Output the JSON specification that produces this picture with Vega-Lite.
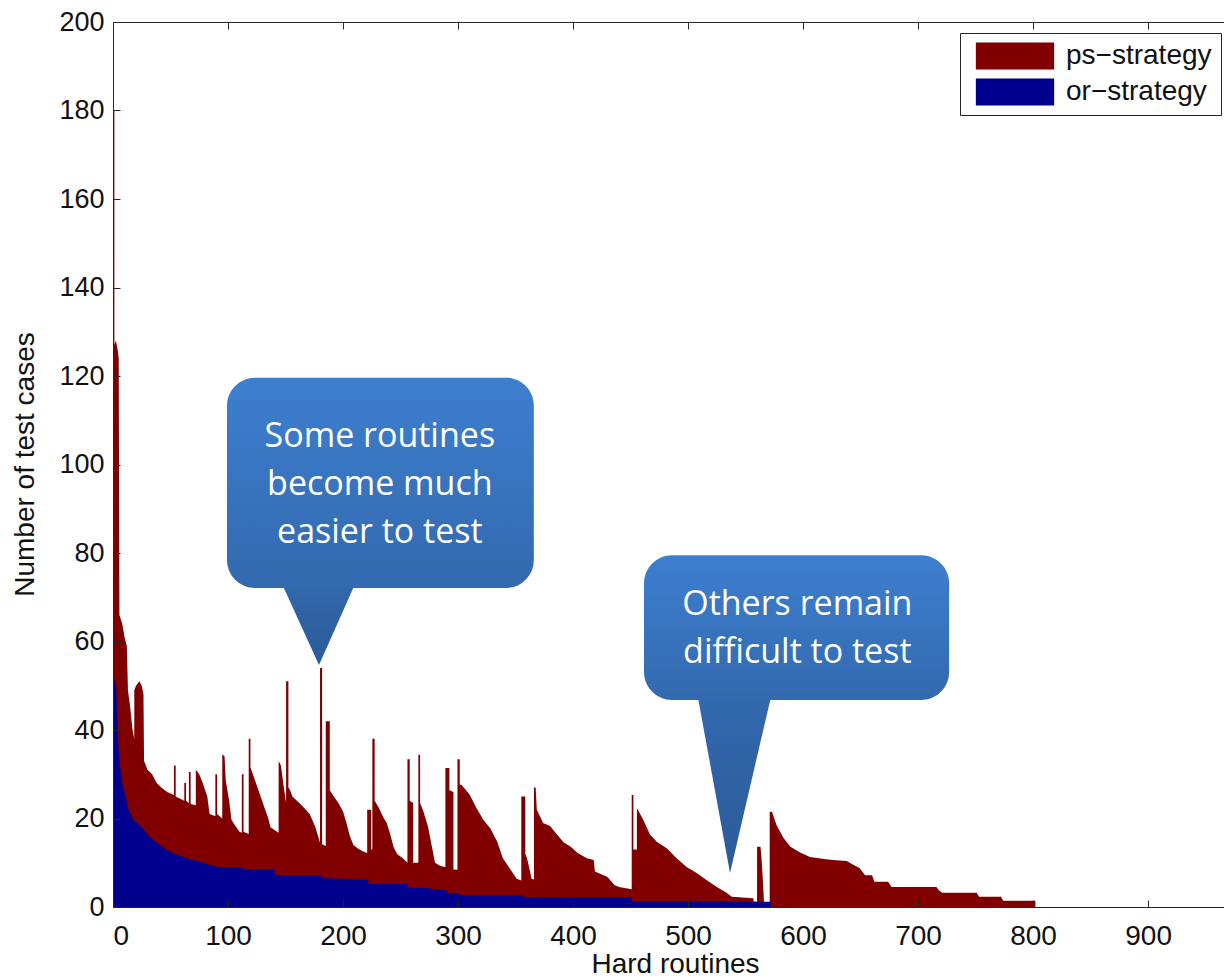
{
  "$schema": "https://vega.github.io/schema/vega-lite/v6.json",
  "width": 1111,
  "height": 885,
  "autosize": {"type": "none"},
  "padding": {"left": 113, "top": 22, "right": 0, "bottom": 70},
  "background": "#ffffff",
  "config": {"view": {"stroke": null}, "font": "Liberation Sans"},
  "datasets": {
    "ps": [
      {"x":0,"y":180,"s":"ps−strategy"},{"x":1.2,"y":180,"s":"ps−strategy"},{"x":1.21,"y":127,"s":"ps−strategy"},{"x":2.5,"y":128,"s":"ps−strategy"},{"x":4,"y":126,"s":"ps−strategy"},{"x":5,"y":124,"s":"ps−strategy"},{"x":5.3,"y":90,"s":"ps−strategy"},{"x":5.6,"y":66,"s":"ps−strategy"},{"x":8,"y":64,"s":"ps−strategy"},{"x":10,"y":61,"s":"ps−strategy"},{"x":12,"y":59,"s":"ps−strategy"},{"x":13,"y":49,"s":"ps−strategy"},{"x":15,"y":45,"s":"ps−strategy"},{"x":17,"y":40,"s":"ps−strategy"},{"x":18.5,"y":38,"s":"ps−strategy"},{"x":18.51,"y":49,"s":"ps−strategy"},{"x":20,"y":50,"s":"ps−strategy"},{"x":23,"y":51,"s":"ps−strategy"},{"x":25,"y":50,"s":"ps−strategy"},{"x":26.5,"y":48,"s":"ps−strategy"},{"x":27,"y":33,"s":"ps−strategy"},{"x":30,"y":31,"s":"ps−strategy"},{"x":34,"y":30,"s":"ps−strategy"},{"x":38,"y":28,"s":"ps−strategy"},{"x":42,"y":27,"s":"ps−strategy"},{"x":47,"y":26,"s":"ps−strategy"},{"x":53,"y":25.3,"s":"ps−strategy"},{"x":53.01,"y":32,"s":"ps−strategy"},{"x":54.5,"y":32,"s":"ps−strategy"},{"x":54.51,"y":25,"s":"ps−strategy"},{"x":58,"y":24.5,"s":"ps−strategy"},{"x":62,"y":24,"s":"ps−strategy"},{"x":62.01,"y":28,"s":"ps−strategy"},{"x":63.5,"y":28,"s":"ps−strategy"},{"x":63.51,"y":24,"s":"ps−strategy"},{"x":66,"y":23.5,"s":"ps−strategy"},{"x":66.01,"y":30.5,"s":"ps−strategy"},{"x":67.5,"y":30.5,"s":"ps−strategy"},{"x":67.51,"y":23.3,"s":"ps−strategy"},{"x":72,"y":23,"s":"ps−strategy"},{"x":72.01,"y":31,"s":"ps−strategy"},{"x":75,"y":30,"s":"ps−strategy"},{"x":78,"y":28,"s":"ps−strategy"},{"x":82,"y":25,"s":"ps−strategy"},{"x":84,"y":21,"s":"ps−strategy"},{"x":89,"y":20.5,"s":"ps−strategy"},{"x":89.01,"y":30,"s":"ps−strategy"},{"x":90.5,"y":30,"s":"ps−strategy"},{"x":90.51,"y":21,"s":"ps−strategy"},{"x":95,"y":20,"s":"ps−strategy"},{"x":95.01,"y":34.5,"s":"ps−strategy"},{"x":97,"y":34,"s":"ps−strategy"},{"x":98,"y":28.7,"s":"ps−strategy"},{"x":101,"y":24,"s":"ps−strategy"},{"x":103,"y":19.7,"s":"ps−strategy"},{"x":106,"y":18.5,"s":"ps−strategy"},{"x":110,"y":17,"s":"ps−strategy"},{"x":112,"y":16.8,"s":"ps−strategy"},{"x":112.01,"y":30,"s":"ps−strategy"},{"x":113.5,"y":30,"s":"ps−strategy"},{"x":113.51,"y":17,"s":"ps−strategy"},{"x":118,"y":16.5,"s":"ps−strategy"},{"x":118.01,"y":38,"s":"ps−strategy"},{"x":119.5,"y":38,"s":"ps−strategy"},{"x":119.51,"y":31.6,"s":"ps−strategy"},{"x":123,"y":29,"s":"ps−strategy"},{"x":127,"y":26,"s":"ps−strategy"},{"x":131,"y":23,"s":"ps−strategy"},{"x":135,"y":20,"s":"ps−strategy"},{"x":137,"y":18,"s":"ps−strategy"},{"x":141,"y":17.3,"s":"ps−strategy"},{"x":144,"y":16.8,"s":"ps−strategy"},{"x":144.01,"y":33,"s":"ps−strategy"},{"x":146,"y":32,"s":"ps−strategy"},{"x":148,"y":28,"s":"ps−strategy"},{"x":150.5,"y":23.5,"s":"ps−strategy"},{"x":150.51,"y":51,"s":"ps−strategy"},{"x":152.5,"y":51,"s":"ps−strategy"},{"x":152.51,"y":27,"s":"ps−strategy"},{"x":154,"y":26.4,"s":"ps−strategy"},{"x":156,"y":25,"s":"ps−strategy"},{"x":164,"y":23,"s":"ps−strategy"},{"x":171,"y":21,"s":"ps−strategy"},{"x":176,"y":18,"s":"ps−strategy"},{"x":180,"y":14.5,"s":"ps−strategy"},{"x":180.01,"y":54,"s":"ps−strategy"},{"x":181.8,"y":54,"s":"ps−strategy"},{"x":181.81,"y":14.2,"s":"ps−strategy"},{"x":185,"y":13.8,"s":"ps−strategy"},{"x":185.01,"y":42,"s":"ps−strategy"},{"x":188.5,"y":42,"s":"ps−strategy"},{"x":188.51,"y":26.4,"s":"ps−strategy"},{"x":192,"y":25,"s":"ps−strategy"},{"x":196,"y":23.5,"s":"ps−strategy"},{"x":200,"y":21.6,"s":"ps−strategy"},{"x":203,"y":19,"s":"ps−strategy"},{"x":206,"y":16,"s":"ps−strategy"},{"x":209,"y":14,"s":"ps−strategy"},{"x":213,"y":13.2,"s":"ps−strategy"},{"x":217,"y":12.6,"s":"ps−strategy"},{"x":221,"y":12.2,"s":"ps−strategy"},{"x":221.01,"y":22,"s":"ps−strategy"},{"x":224.5,"y":22,"s":"ps−strategy"},{"x":224.51,"y":13,"s":"ps−strategy"},{"x":225.5,"y":13,"s":"ps−strategy"},{"x":225.51,"y":38,"s":"ps−strategy"},{"x":227.5,"y":38,"s":"ps−strategy"},{"x":227.51,"y":24,"s":"ps−strategy"},{"x":231,"y":22.5,"s":"ps−strategy"},{"x":235,"y":20.3,"s":"ps−strategy"},{"x":238,"y":19,"s":"ps−strategy"},{"x":241,"y":16.5,"s":"ps−strategy"},{"x":244,"y":13.5,"s":"ps−strategy"},{"x":247,"y":12,"s":"ps−strategy"},{"x":252,"y":11,"s":"ps−strategy"},{"x":256,"y":10,"s":"ps−strategy"},{"x":256.01,"y":33.4,"s":"ps−strategy"},{"x":258,"y":33.4,"s":"ps−strategy"},{"x":258.01,"y":24,"s":"ps−strategy"},{"x":261,"y":23.5,"s":"ps−strategy"},{"x":261.01,"y":10,"s":"ps−strategy"},{"x":265.5,"y":10,"s":"ps−strategy"},{"x":265.51,"y":34.4,"s":"ps−strategy"},{"x":267,"y":34.4,"s":"ps−strategy"},{"x":267.01,"y":23.5,"s":"ps−strategy"},{"x":270,"y":21.5,"s":"ps−strategy"},{"x":274,"y":18,"s":"ps−strategy"},{"x":277,"y":14,"s":"ps−strategy"},{"x":280,"y":10,"s":"ps−strategy"},{"x":284,"y":9.4,"s":"ps−strategy"},{"x":289,"y":9,"s":"ps−strategy"},{"x":289.01,"y":31.4,"s":"ps−strategy"},{"x":292.5,"y":31.4,"s":"ps−strategy"},{"x":292.51,"y":26.4,"s":"ps−strategy"},{"x":296,"y":26,"s":"ps−strategy"},{"x":296.01,"y":8.5,"s":"ps−strategy"},{"x":299.5,"y":8.4,"s":"ps−strategy"},{"x":299.51,"y":33.4,"s":"ps−strategy"},{"x":301.5,"y":33.4,"s":"ps−strategy"},{"x":301.51,"y":27.6,"s":"ps−strategy"},{"x":303,"y":27.6,"s":"ps−strategy"},{"x":310,"y":25.4,"s":"ps−strategy"},{"x":316,"y":22.4,"s":"ps−strategy"},{"x":322,"y":19.7,"s":"ps−strategy"},{"x":328,"y":17.8,"s":"ps−strategy"},{"x":334,"y":14.8,"s":"ps−strategy"},{"x":339,"y":11,"s":"ps−strategy"},{"x":345,"y":8.7,"s":"ps−strategy"},{"x":351,"y":6.4,"s":"ps−strategy"},{"x":355,"y":6,"s":"ps−strategy"},{"x":355.01,"y":25,"s":"ps−strategy"},{"x":358.5,"y":25,"s":"ps−strategy"},{"x":358.51,"y":12,"s":"ps−strategy"},{"x":360,"y":11,"s":"ps−strategy"},{"x":364,"y":6.4,"s":"ps−strategy"},{"x":366,"y":6.2,"s":"ps−strategy"},{"x":366.01,"y":27,"s":"ps−strategy"},{"x":367.5,"y":27,"s":"ps−strategy"},{"x":368.5,"y":22,"s":"ps−strategy"},{"x":374,"y":19,"s":"ps−strategy"},{"x":380,"y":18.3,"s":"ps−strategy"},{"x":386,"y":16.4,"s":"ps−strategy"},{"x":392,"y":14.6,"s":"ps−strategy"},{"x":398,"y":13.6,"s":"ps−strategy"},{"x":404,"y":12.2,"s":"ps−strategy"},{"x":412,"y":11,"s":"ps−strategy"},{"x":418,"y":10.6,"s":"ps−strategy"},{"x":419,"y":8,"s":"ps−strategy"},{"x":430,"y":6.8,"s":"ps−strategy"},{"x":436,"y":5,"s":"ps−strategy"},{"x":440,"y":4.5,"s":"ps−strategy"},{"x":451,"y":4,"s":"ps−strategy"},{"x":451.01,"y":25.3,"s":"ps−strategy"},{"x":452.5,"y":25.3,"s":"ps−strategy"},{"x":452.51,"y":13,"s":"ps−strategy"},{"x":455.5,"y":13,"s":"ps−strategy"},{"x":455.51,"y":22.4,"s":"ps−strategy"},{"x":461,"y":19.7,"s":"ps−strategy"},{"x":467,"y":16.3,"s":"ps−strategy"},{"x":473,"y":14.7,"s":"ps−strategy"},{"x":481.5,"y":13.3,"s":"ps−strategy"},{"x":490,"y":11,"s":"ps−strategy"},{"x":499,"y":9,"s":"ps−strategy"},{"x":507.5,"y":7.7,"s":"ps−strategy"},{"x":516,"y":6.1,"s":"ps−strategy"},{"x":525,"y":4.5,"s":"ps−strategy"},{"x":533.5,"y":3.2,"s":"ps−strategy"},{"x":538,"y":2.3,"s":"ps−strategy"},{"x":556.8,"y":2,"s":"ps−strategy"},{"x":557,"y":1.2,"s":"ps−strategy"},{"x":560,"y":1.2,"s":"ps−strategy"},{"x":560.01,"y":13.6,"s":"ps−strategy"},{"x":563,"y":13.6,"s":"ps−strategy"},{"x":564,"y":10.6,"s":"ps−strategy"},{"x":565.5,"y":4,"s":"ps−strategy"},{"x":566,"y":1,"s":"ps−strategy"},{"x":571,"y":1,"s":"ps−strategy"},{"x":571.01,"y":21.5,"s":"ps−strategy"},{"x":573,"y":21.5,"s":"ps−strategy"},{"x":577,"y":18.5,"s":"ps−strategy"},{"x":583,"y":15.6,"s":"ps−strategy"},{"x":589,"y":13.6,"s":"ps−strategy"},{"x":597,"y":12.4,"s":"ps−strategy"},{"x":606,"y":11.3,"s":"ps−strategy"},{"x":620,"y":10.8,"s":"ps−strategy"},{"x":626,"y":10.6,"s":"ps−strategy"},{"x":638,"y":10.4,"s":"ps−strategy"},{"x":644,"y":9.5,"s":"ps−strategy"},{"x":649,"y":8.8,"s":"ps−strategy"},{"x":654,"y":7.2,"s":"ps−strategy"},{"x":660,"y":7.2,"s":"ps−strategy"},{"x":662,"y":5.7,"s":"ps−strategy"},{"x":674,"y":5.7,"s":"ps−strategy"},{"x":677,"y":4.5,"s":"ps−strategy"},{"x":716,"y":4.5,"s":"ps−strategy"},{"x":718,"y":3.8,"s":"ps−strategy"},{"x":721,"y":3.2,"s":"ps−strategy"},{"x":751,"y":3.2,"s":"ps−strategy"},{"x":753,"y":2.3,"s":"ps−strategy"},{"x":772,"y":2.3,"s":"ps−strategy"},{"x":774,"y":1.4,"s":"ps−strategy"},{"x":802,"y":1.4,"s":"ps−strategy"},{"x":802.01,"y":0,"s":"ps−strategy"}
    ],
    "or": [
      {"x":0,"y":51.5,"s":"or−strategy"},{"x":2,"y":51,"s":"or−strategy"},{"x":3,"y":49,"s":"or−strategy"},{"x":4,"y":40,"s":"or−strategy"},{"x":5,"y":35,"s":"or−strategy"},{"x":6,"y":32,"s":"or−strategy"},{"x":8,"y":28,"s":"or−strategy"},{"x":10,"y":26,"s":"or−strategy"},{"x":13,"y":22.5,"s":"or−strategy"},{"x":17,"y":20,"s":"or−strategy"},{"x":21,"y":19,"s":"or−strategy"},{"x":25,"y":18,"s":"or−strategy"},{"x":29,"y":16.8,"s":"or−strategy"},{"x":32,"y":15.8,"s":"or−strategy"},{"x":36,"y":15,"s":"or−strategy"},{"x":39,"y":14.4,"s":"or−strategy"},{"x":43,"y":13.6,"s":"or−strategy"},{"x":47,"y":12.9,"s":"or−strategy"},{"x":54,"y":12,"s":"or−strategy"},{"x":61,"y":11.3,"s":"or−strategy"},{"x":68,"y":10.7,"s":"or−strategy"},{"x":76,"y":10.2,"s":"or−strategy"},{"x":83,"y":9.6,"s":"or−strategy"},{"x":90,"y":9.1,"s":"or−strategy"},{"x":97,"y":9,"s":"or−strategy"},{"x":113,"y":9,"s":"or−strategy"},{"x":113.01,"y":8.4,"s":"or−strategy"},{"x":141,"y":8.4,"s":"or−strategy"},{"x":141.01,"y":7.2,"s":"or−strategy"},{"x":182,"y":7.2,"s":"or−strategy"},{"x":182.01,"y":6.5,"s":"or−strategy"},{"x":206,"y":6.3,"s":"or−strategy"},{"x":222,"y":6.1,"s":"or−strategy"},{"x":222.01,"y":5.2,"s":"or−strategy"},{"x":256,"y":5.2,"s":"or−strategy"},{"x":256.01,"y":4.4,"s":"or−strategy"},{"x":276,"y":4.3,"s":"or−strategy"},{"x":276.01,"y":4,"s":"or−strategy"},{"x":290,"y":3.8,"s":"or−strategy"},{"x":290.01,"y":3.2,"s":"or−strategy"},{"x":302,"y":3.1,"s":"or−strategy"},{"x":302.01,"y":2.7,"s":"or−strategy"},{"x":357,"y":2.7,"s":"or−strategy"},{"x":357.01,"y":2.2,"s":"or−strategy"},{"x":451,"y":2.2,"s":"or−strategy"},{"x":451.01,"y":1.2,"s":"or−strategy"},{"x":572,"y":1.2,"s":"or−strategy"},{"x":572.01,"y":0,"s":"or−strategy"}
    ],
    "pointers": [
      {"c":"A","x":145.2,"y":74,"y2":74},{"c":"A","x":179.1,"y":54.7,"y2":74},{"c":"A","x":212.2,"y":74,"y2":74},
      {"c":"B","x":507.8,"y":48.5,"y2":48.5},{"c":"B","x":536.5,"y":7.7,"y2":48.5},{"c":"B","x":573,"y":48.5,"y2":48.5}
    ],
    "boxes": [
      {"x":99.1,"x2":365.9,"y":72.1,"y2":119.6},
      {"x":461.7,"x2":727,"y":46.8,"y2":79.5}
    ],
    "notes": [
      {"x":232,"y":106.2,"t":"Some routines\nbecome much\neasier to test"},
      {"x":595,"y":68.2,"t":"Others remain\ndifficult to test"}
    ]
  },
  "resolve": {"axis": {"x": "independent"}},
  "layer": [
    {
      "data": {"name": "ps"},
      "mark": {"type": "area", "interpolate": "linear", "opacity": 1, "clip": true},
      "encoding": {
        "x": {"field": "x", "type": "quantitative", "scale": {"domain": [0, 966], "nice": false, "zero": false},
          "axis": {"orient": "bottom", "values": [0,100,200,300,400,500,600,700,800,900], "tickSize": -7, "labelPadding": 22, "labelFontSize": 28, "labelFont": "Liberation Sans", "labelColor": "#111", "domainColor": "#262626", "tickColor": "#262626", "grid": false, "zindex": 1,
            "title": "Hard routines", "titleFontSize": 28, "titleFont": "Liberation Sans", "titleFontWeight": "normal", "titleColor": "#111", "titleX": 562, "titleY": 65, "titleBaseline": "alphabetic", "titleAlign": "center"}},
        "y": {"field": "y", "type": "quantitative", "stack": null, "scale": {"domain": [0, 200], "nice": false},
          "axis": {"values": [0,20,40,60,80,100,120,140,160,180,200], "tickSize": -7, "labelPadding": 16, "labelFontSize": 27, "labelFont": "Liberation Sans", "labelColor": "#111", "domainColor": "#262626", "tickColor": "#262626", "grid": false, "zindex": 1,
            "title": "Number of test cases", "titleFontSize": 28, "titleFont": "Liberation Sans", "titleFontWeight": "normal", "titleColor": "#111", "titleAngle": -90, "titleX": -88, "titleY": 442, "titleAlign": "center", "titleBaseline": "middle"}},
        "color": {"field": "s", "type": "nominal",
          "scale": {"domain": ["ps−strategy", "or−strategy"], "range": ["#800000", "#00008f"]},
          "legend": {"orient": "none", "legendX": 847, "legendY": 11, "title": null, "symbolType": "M-2.9,-1H2.9V1H-2.9Z", "symbolSize": 729, "symbolStrokeWidth": 0, "symbolOpacity": 1, "symbolOffset": 32, "labelOffset": 37, "labelFontSize": 28, "labelFont": "Liberation Sans", "labelColor": "#111", "strokeColor": "#262626", "fillColor": "#ffffff", "padding": 9, "rowPadding": 8}}
      }
    },
    {
      "data": {"name": "or"},
      "mark": {"type": "area", "interpolate": "linear", "opacity": 1, "clip": true},
      "encoding": {
        "x": {"field": "x", "type": "quantitative", "axis": null},
        "y": {"field": "y", "type": "quantitative", "stack": null},
        "color": {"field": "s", "type": "nominal"}
      }
    },
    {
      "data": {"name": "pointers"},
      "mark": {"type": "area", "interpolate": "linear", "fill": {"gradient": "linear", "x1": 0, "y1": 0, "x2": 0, "y2": 1, "stops": [{"offset": 0, "color": "#3369ae"}, {"offset": 1, "color": "#2b5a99"}]}},
      "encoding": {
        "x": {"field": "x", "type": "quantitative", "axis": null},
        "y": {"field": "y", "type": "quantitative", "stack": null},
        "y2": {"field": "y2"},
        "detail": {"field": "c", "type": "nominal"}
      }
    },
    {
      "data": {"name": "boxes"},
      "mark": {"type": "rect", "cornerRadius": 28, "fill": {"gradient": "linear", "x1": 0, "y1": 0, "x2": 0, "y2": 1, "stops": [{"offset": 0, "color": "#3d7fcf"}, {"offset": 1, "color": "#3369ae"}]}},
      "encoding": {
        "x": {"field": "x", "type": "quantitative",
          "axis": {"orient": "top", "values": [0,100,200,300,400,500,600,700,800,900], "labels": false, "title": null, "tickSize": -7, "domainColor": "#262626", "tickColor": "#262626", "grid": false, "zindex": 1}},
        "x2": {"field": "x2"},
        "y": {"field": "y", "type": "quantitative"},
        "y2": {"field": "y2"}
      }
    },
    {
      "data": {"name": "notes"},
      "mark": {"type": "text", "font": "Open Sans", "fontSize": 34, "color": "#ffffff", "lineBreak": "\n", "lineHeight": 48, "align": "center", "baseline": "middle"},
      "encoding": {
        "x": {"field": "x", "type": "quantitative", "axis": null},
        "y": {"field": "y", "type": "quantitative"},
        "text": {"field": "t"}
      }
    }
  ]
}
